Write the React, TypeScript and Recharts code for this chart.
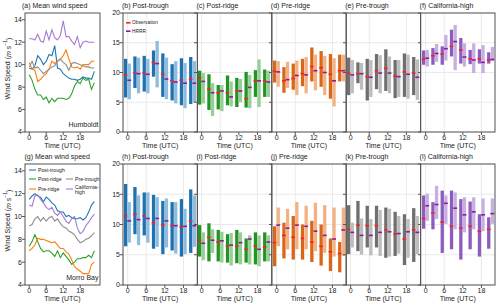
import React from "react";
import { ComposedChart, LineChart, Line, Bar, XAxis, YAxis, CartesianGrid } from "recharts";

// hourly mean wind speed, t = 0..23 UTC
const hours = [0, 1, 2, 3, 4, 5, 6, 7, 8, 9, 10, 11, 12, 13, 14, 15, 16, 17, 18, 19, 20, 21, 22, 23];
const timeTicks = [0, 6, 12, 18];
const groupTimes = [0, 3, 6, 9, 12, 15, 18, 21];

const humLines = {
  pt: [9.7, 9.6, 9.9, 10.8, 10.5, 10.0, 10.3, 10.9, 10.8, 11.7, 9.7, 9.6, 9.2, 9.0, 8.8, 8.7, 8.7, 8.6, 8.7, 8.9, 8.8, 8.8, 8.7, 9.4],
  pr: [9.1, 8.6, 7.8, 7.3, 7.3, 6.9, 7.1, 6.6, 7.0, 6.7, 7.0, 7.0, 7.0, 6.9, 7.0, 7.4, 8.1, 8.5, 8.3, 8.8, 8.6, 8.7, 7.8, 8.4],
  rd: [10.2, 9.6, 9.5, 8.5, 8.7, 9.0, 9.2, 9.6, 10.3, 10.1, 10.3, 10.5, 10.8, 11.3, 10.5, 9.8, 9.7, 9.8, 9.6, 10.0, 10.0, 10.0, 10.3, 10.3],
  tr: [9.8, 10.3, 9.7, 9.8, 9.5, 9.2, 9.4, 9.6, 9.8, 9.9, 10.3, 10.5, 10.2, 10.0, 9.5, 10.1, 10.2, 10.1, 10.0, 9.9, 9.8, 9.8, 9.7, 9.7],
  ch: [12.3, 12.3, 12.2, 12.7, 12.1, 12.0, 13.0, 12.2, 13.1, 12.4, 12.2, 12.6, 13.9, 12.5, 12.5, 12.1, 11.8, 12.5, 11.5, 12.0, 12.1, 12.0, 12.0, 12.0],
};

const mbLines = {
  pt: [11.5, 11.8, 12.0, 11.8, 11.7, 11.3, 11.7, 11.5, 11.2, 11.0, 10.5, 10.4, 10.4, 10.0, 10.1, 9.9, 9.8, 9.8, 9.9, 9.7, 9.9, 10.4, 11.0, 11.3],
  pr: [7.4, 7.8, 8.4, 7.8, 7.2, 6.9, 7.0, 7.0, 6.8, 6.5, 7.0, 6.4, 6.8, 6.5, 6.2, 5.8, 6.0, 6.3, 6.3, 6.4, 6.4, 6.6, 6.4, 7.0],
  rd: [7.0, 7.2, 7.5, 8.1, 8.0, 8.0, 7.9, 7.8, 7.7, 7.8, 7.5, 7.2, 7.2, 6.9, 6.7, 6.2, 5.6, 5.4, 5.2, 5.0, 5.0, 5.0, 5.8, 6.0],
  tr: [9.2, 9.3, 9.8, 10.0, 9.6, 9.9, 9.6, 9.9, 10.0, 9.6, 9.8, 9.4, 9.1, 9.0, 8.7, 8.6, 8.4, 8.0, 7.7, 7.8, 8.0, 8.1, 8.3, 8.6],
  ch: [11.0, 10.9, 11.8, 11.9, 11.5, 11.2, 10.8, 10.6, 10.8, 10.3, 10.1, 10.4, 10.0, 9.6, 9.4, 9.8, 10.0, 9.0, 8.5, 8.7, 9.2, 9.5, 9.9, 10.2],
};

// [low, high, mean] every 3 h
const humPostTroughObs = [[5.8, 12.3, 9.6], [7.4, 12.7, 9.9], [6.8, 12.8, 9.9], [9.3, 13.7, 11.7], [5.9, 13.2, 9.7], [5.3, 11.4, 8.6], [4.5, 12.4, 8.7], [4.7, 12.6, 8.9]];
const humPostTroughHrrr = [[5.5, 11.5, 8.7], [6.5, 12.5, 9.8], [6.5, 12.3, 9.7], [7.5, 15.3, 11.5], [5.5, 12.5, 8.9], [4.8, 11.9, 8.4], [4.0, 11.6, 8.2], [5.0, 11.9, 8.2]];
const humPostRidgeObs = [[4.6, 10.3, 9.1], [3.7, 9.7, 7.2], [3.8, 7.9, 6.6], [4.5, 9.5, 6.6], [4.2, 9.1, 6.9], [4.1, 10.1, 5.6], [5.9, 10.4, 8.6], [5.9, 10.5, 8.6]];
const humPostRidgeHrrr = [[4.8, 9.9, 8.5], [2.7, 8.2, 6.6], [3.5, 7.9, 6.9], [4.3, 8.5, 5.9], [5.0, 8.9, 6.9], [4.0, 9.6, 7.5], [4.2, 12.2, 8.6], [5.9, 10.3, 8.4]];
const humPreRidgeObs = [[8.3, 12.0, 10.2], [6.6, 10.9, 8.6], [7.1, 11.5, 9.0], [7.7, 12.3, 9.8], [8.5, 14.2, 11.0], [7.6, 13.6, 10.8], [5.6, 13.1, 9.7], [8.5, 13.0, 10.3]];
const humPreRidgeHrrr = [[7.6, 11.9, 10.1], [7.4, 11.8, 8.8], [6.2, 12.0, 9.5], [6.5, 12.6, 9.6], [7.0, 13.0, 10.3], [6.2, 12.8, 10.0], [4.3, 12.4, 8.6], [8.5, 13.0, 10.3]];
const humPreTroughObs = [[6.2, 12.5, 9.9], [8.2, 11.7, 9.8], [5.3, 12.3, 9.3], [7.2, 13.1, 10.3], [6.9, 13.9, 10.7], [5.7, 12.1, 9.4], [5.9, 13.2, 10.1], [6.2, 12.6, 9.9]];
const humPreTroughHrrr = [[6.5, 12.1, 9.6], [7.1, 11.6, 9.8], [5.9, 12.1, 9.2], [6.5, 12.9, 9.9], [6.5, 12.7, 9.9], [5.9, 12.1, 9.3], [5.6, 13.0, 9.7], [5.4, 12.2, 9.2]];
const humCalHighObs = [[11.3, 13.7, 12.2], [11.3, 14.1, 12.8], [11.3, 14.4, 13.1], [12.7, 17.2, 14.4], [11.5, 15.8, 13.8], [11.4, 13.8, 12.3], [11.5, 13.9, 12.3], [11.5, 13.4, 12.1]];
const humCalHighHrrr = [[11.0, 13.8, 12.4], [11.8, 14.8, 13.2], [12.0, 16.3, 14.0], [10.4, 18.0, 15.2], [11.0, 14.9, 12.6], [9.9, 14.9, 12.1], [9.9, 14.6, 11.7], [11.9, 14.3, 12.2]];

const mbPostTroughObs = [[6.4, 16.7, 11.4], [8.4, 16.2, 11.7], [8.2, 15.3, 11.4], [6.0, 14.9, 10.3], [5.1, 13.9, 9.9], [5.7, 13.7, 9.8], [4.7, 14.2, 9.6], [5.3, 15.8, 10.6]];
const mbPostTroughHrrr = [[7.0, 13.7, 10.6], [6.6, 14.8, 10.8], [7.0, 15.3, 11.0], [6.3, 14.5, 11.0], [6.2, 14.3, 10.6], [5.2, 13.7, 9.8], [5.1, 12.6, 9.7], [6.3, 14.8, 9.8]];
const mbPostRidgeObs = [[4.7, 9.9, 7.4], [3.9, 10.2, 7.9], [3.9, 9.1, 7.1], [3.7, 8.4, 6.4], [3.6, 9.1, 6.4], [3.7, 7.7, 5.9], [3.4, 8.7, 6.4], [3.9, 8.7, 6.3]];
const mbPostRidgeHrrr = [[4.1, 8.7, 6.9], [5.3, 9.2, 7.4], [3.7, 8.8, 7.3], [3.2, 8.6, 6.6], [3.4, 8.7, 7.0], [3.4, 8.2, 7.6], [3.1, 8.2, 5.9], [3.9, 8.2, 7.1]];
const mbPreRidgeObs = [[3.1, 9.7, 7.0], [4.4, 10.3, 8.2], [4.2, 11.4, 7.9], [4.2, 10.0, 7.7], [3.8, 10.6, 7.1], [3.2, 10.0, 6.4], [2.3, 7.7, 5.5], [2.1, 7.1, 5.2]];
const mbPreRidgeHrrr = [[6.4, 12.8, 9.9], [5.9, 12.6, 9.4], [5.9, 13.7, 9.9], [5.9, 13.1, 9.7], [5.6, 13.6, 8.9], [5.3, 13.2, 8.2], [4.7, 12.8, 7.6], [4.8, 12.8, 9.1]];
const mbPreTroughObs = [[5.1, 13.2, 9.2], [5.6, 13.9, 9.9], [6.2, 13.1, 9.8], [6.2, 13.1, 9.8], [4.5, 12.8, 9.1], [4.8, 12.1, 8.4], [3.3, 11.7, 7.6], [3.8, 12.7, 9.1]];
const mbPreTroughHrrr = [[6.2, 10.3, 8.7], [5.0, 11.0, 8.2], [4.9, 10.9, 8.2], [4.8, 12.4, 8.7], [4.7, 12.6, 8.8], [5.2, 11.4, 8.5], [4.5, 10.9, 8.8], [5.1, 11.4, 8.7]];
const mbCalHighObs = [[9.3, 14.8, 11.0], [9.2, 13.7, 11.9], [5.3, 15.6, 10.4], [5.9, 15.6, 9.7], [4.2, 14.2, 9.4], [5.9, 13.8, 9.7], [4.7, 11.7, 8.9], [6.0, 11.2, 9.2]];
const mbCalHighHrrr = [[10.6, 15.1, 13.1], [10.9, 16.4, 13.3], [10.1, 14.8, 13.5], [9.2, 15.3, 12.7], [8.7, 14.5, 11.6], [9.2, 14.5, 12.1], [8.9, 14.3, 11.6], [10.1, 14.3, 11.8]];

const regimes = [
  { key: "pt", name: "Post-trough", line: "#1f77b4", dark: "#1f71b0", light: "#8fbcdc" },
  { key: "pr", name: "Post-ridge", line: "#2ca02c", dark: "#239325", light: "#95cf95" },
  { key: "rd", name: "Pre-ridge", line: "#ff7f0e", dark: "#d9671b", light: "#f2b283" },
  { key: "tr", name: "Pre-trough", line: "#8c8c8c", dark: "#6f6f6f", light: "#bdbdbd" },
  { key: "ch", name: "California-high", line: "#a57ad6", dark: "#8c5cbf", light: "#c7b0e0" },
];

const FONT = '"Liberation Sans", Arial, sans-serif';
const INK = "#222";
const FRAME = "#555";
const OBS_MARK = "#ff1f1f";
const HRRR_MARK = "#8e1a9c";

// layout
const rows = [
  { top: 13, bottom: 132 },
  { top: 164, bottom: 285 },
];
const LX0 = 25;
const LX1 = 100;
const BX0 = 123;
const PW = 74.4;

function RangeBox(props: any) {
  const { x, y, width, height, fill, lo, hi, mean, mark } = props;
  if (x == null || y == null) return null;
  const top = Math.min(y, y + height);
  const h = Math.abs(height);
  const my = top + ((hi - mean) / (hi - lo)) * h;
  return (
    <g>
      <rect x={x} y={top} width={width} height={h} fill={fill} />
      <line x1={x - 0.3} x2={x + width + 0.3} y1={my} y2={my} stroke={mark} strokeWidth={1.6} />
    </g>
  );
}

function BarPanel({ col, row, obs, hrrr, regime }: any) {
  const showY = col === 0;
  const yw = showY ? 20 : 4;
  const pad = 4;
  const xh = 14;
  const { top, bottom } = rows[row];
  const data = groupTimes.map((t, i) => ({
    t,
    obs: [obs[i][0], obs[i][1]],
    obsMean: obs[i][2],
    hrrr: [hrrr[i][0], hrrr[i][1]],
    hrrrMean: hrrr[i][2],
  }));
  return (
    <div style={{ position: "absolute", left: BX0 + col * PW - yw, top: top - pad }}>
      <ComposedChart
        width={PW + yw}
        height={bottom - top + pad + xh}
        data={data}
        margin={{ top: pad, right: 0, bottom: 0, left: 0 }}
        barGap={0.3}
      >
        <CartesianGrid stroke="#e4e4e4" strokeWidth={0.8} />
        <XAxis
          dataKey="t"
          type="category"
          ticks={timeTicks}
          height={xh}
          tickSize={3}
          tickMargin={0}
          axisLine={false}
          tickLine={{ stroke: FRAME }}
          tick={{ fontSize: 7, fill: INK, fontFamily: FONT }}
        />
        <YAxis
          type="number"
          domain={[0, 20]}
          ticks={[0, 5, 10, 15, 20]}
          width={yw}
          tickSize={3}
          tickMargin={0}
          axisLine={false}
          tickLine={{ stroke: FRAME }}
          tick={{ fontSize: 7, fill: INK, fontFamily: FONT }}
          tickFormatter={showY ? (v: number) => String(v) : () => ""}
        />
        <Bar
          dataKey="obs"
          barSize={3.3}
          fill={regime.dark}
          isAnimationActive={false}
          shape={(p: any) => (
            <RangeBox {...p} lo={p.payload.obs[0]} hi={p.payload.obs[1]} mean={p.payload.obsMean} mark={OBS_MARK} />
          )}
        />
        <Bar
          dataKey="hrrr"
          barSize={3.3}
          fill={regime.light}
          isAnimationActive={false}
          shape={(p: any) => (
            <RangeBox {...p} lo={p.payload.hrrr[0]} hi={p.payload.hrrr[1]} mean={p.payload.hrrrMean} mark={HRRR_MARK} />
          )}
        />
      </ComposedChart>
    </div>
  );
}

function LinePanel({ row, lines }: any) {
  const yw = 15;
  const pad = 4;
  const xh = 14;
  const { top, bottom } = rows[row];
  const data = hours.map((h, i) => {
    const d: any = { h };
    regimes.forEach((r) => (d[r.key] = lines[r.key][i]));
    return d;
  });
  return (
    <div style={{ position: "absolute", left: LX0 - yw, top: top - pad }}>
      <LineChart
        width={LX1 - LX0 + yw}
        height={bottom - top + pad + xh}
        data={data}
        margin={{ top: pad, right: 0, bottom: 0, left: 0 }}
      >
        <XAxis
          dataKey="h"
          type="number"
          domain={[-1.5, 25]}
          ticks={timeTicks}
          height={xh}
          tickSize={3}
          tickMargin={0}
          axisLine={false}
          tickLine={{ stroke: FRAME }}
          tick={{ fontSize: 7, fill: INK, fontFamily: FONT }}
          allowDataOverflow
        />
        <YAxis
          type="number"
          domain={[4, 14.6]}
          ticks={[4, 6, 8, 10, 12, 14]}
          width={yw}
          tickSize={3}
          tickMargin={0}
          axisLine={false}
          tickLine={{ stroke: FRAME }}
          tick={{ fontSize: 7, fill: INK, fontFamily: FONT }}
          allowDataOverflow
        />
        {regimes.map((r) => (
          <Line
            key={r.key}
            dataKey={r.key}
            stroke={r.line}
            strokeWidth={1.1}
            dot={false}
            isAnimationActive={false}
          />
        ))}
      </LineChart>
    </div>
  );
}

const humBars = [
  [humPostTroughObs, humPostTroughHrrr],
  [humPostRidgeObs, humPostRidgeHrrr],
  [humPreRidgeObs, humPreRidgeHrrr],
  [humPreTroughObs, humPreTroughHrrr],
  [humCalHighObs, humCalHighHrrr],
];
const mbBars = [
  [mbPostTroughObs, mbPostTroughHrrr],
  [mbPostRidgeObs, mbPostRidgeHrrr],
  [mbPreRidgeObs, mbPreRidgeHrrr],
  [mbPreTroughObs, mbPreTroughHrrr],
  [mbCalHighObs, mbCalHighHrrr],
];
// panel order b..f / h..l
const panelOrder = [0, 1, 2, 3, 4];
const letters = [
  ["(a) Mean wind speed", "(b) Post-trough", "(c) Post-ridge", "(d) Pre-ridge", "(e) Pre-trough", "(f) California-high"],
  ["(g) Mean wind speed", "(h) Post-trough", "(i) Post-ridge", "(j) Pre-ridge", "(k) Pre-trough", "(l) California-high"],
];
const stations = ["Humboldt", "Morro Bay"];

function Txt({ x, y, children, size = 7, anchor = "start", color = INK }: any) {
  return (
    <text x={x} y={y} fontSize={size} fill={color} fontFamily={FONT} textAnchor={anchor} dominantBaseline="central">
      {children}
    </text>
  );
}

function Overlay() {
  const legendG = [
    { r: regimes[0], x: 29, y: 170 },
    { r: regimes[1], x: 29, y: 179 },
    { r: regimes[2], x: 29, y: 189 },
    { r: regimes[3], x: 66, y: 179 },
  ];
  return (
    <svg width={500} height={307} style={{ position: "absolute", left: 0, top: 0, pointerEvents: "none" }}>
      {rows.map((rw, ri) => (
        <g key={ri}>
          <rect x={LX0} y={rw.top} width={LX1 - LX0} height={rw.bottom - rw.top} fill="none" stroke={FRAME} strokeWidth={1} />
          {panelOrder.map((c) => (
            <rect key={c} x={BX0 + c * PW} y={rw.top} width={PW} height={rw.bottom - rw.top} fill="none" stroke={FRAME} strokeWidth={1} />
          ))}
          <Txt x={ri === 0 ? 22 : 24.5} y={rw.top - 7.5}>{letters[ri][0]}</Txt>
          {panelOrder.map((c) => (
            <Txt key={c} x={BX0 + c * PW - 1} y={rw.top - 7.5}>{letters[ri][c + 1]}</Txt>
          ))}
          <Txt x={(LX0 + LX1) / 2} y={rw.bottom + 13.5} anchor="middle">Time (UTC)</Txt>
          {panelOrder.map((c) => (
            <Txt key={c} x={BX0 + c * PW + PW / 2} y={rw.bottom + 13.5} anchor="middle">Time (UTC)</Txt>
          ))}
          <Txt x={98.5} y={rw.bottom - 8} anchor="end">{stations[ri]}</Txt>
          <text
            transform={`translate(7.5, ${(rw.top + rw.bottom) / 2 - 4}) rotate(-90)`}
            fontSize={7}
            fill={INK}
            fontFamily={FONT}
            textAnchor="middle"
            dominantBaseline="central"
          >
            Wind Speed (<tspan fontStyle="italic">m s</tspan>
            <tspan fontSize={5} dy={-2.5}>−1</tspan>
            <tspan dy={2.5}>)</tspan>
          </text>
        </g>
      ))}
      {/* legend (b) */}
      <line x1={126} x2={130.5} y1={22.8} y2={22.8} stroke={OBS_MARK} strokeWidth={1.6} />
      <Txt x={132} y={22.8} size={4.8}>Observation</Txt>
      <line x1={126} x2={130.5} y1={31.2} y2={31.2} stroke={HRRR_MARK} strokeWidth={1.6} />
      <Txt x={132} y={31.2} size={4.8}>HRRR</Txt>
      {/* legend (g) */}
      {legendG.map((e) => (
        <g key={e.r.key}>
          <line x1={e.x} x2={e.x + 7} y1={e.y} y2={e.y} stroke={e.r.line} strokeWidth={1.1} />
          <Txt x={e.x + 9} y={e.y} size={5.2}>{e.r.name}</Txt>
        </g>
      ))}
      <line x1={66} x2={73} y1={189} y2={189} stroke={regimes[4].line} strokeWidth={1.1} />
      <Txt x={75} y={187} size={5.2}>California-</Txt>
      <Txt x={75} y={192} size={5.2}>high</Txt>
    </svg>
  );
}

export default function App() {
  return (
    <div style={{ position: "absolute", left: 0, top: 0, width: 500, height: 307, background: "#fff", overflow: "hidden" }}>
      <LinePanel row={0} lines={humLines} />
      <LinePanel row={1} lines={mbLines} />
      {panelOrder.map((c) => (
        <BarPanel key={`h${c}`} col={c} row={0} obs={humBars[c][0]} hrrr={humBars[c][1]} regime={regimes[c]} />
      ))}
      {panelOrder.map((c) => (
        <BarPanel key={`m${c}`} col={c} row={1} obs={mbBars[c][0]} hrrr={mbBars[c][1]} regime={regimes[c]} />
      ))}
      <Overlay />
    </div>
  );
}
